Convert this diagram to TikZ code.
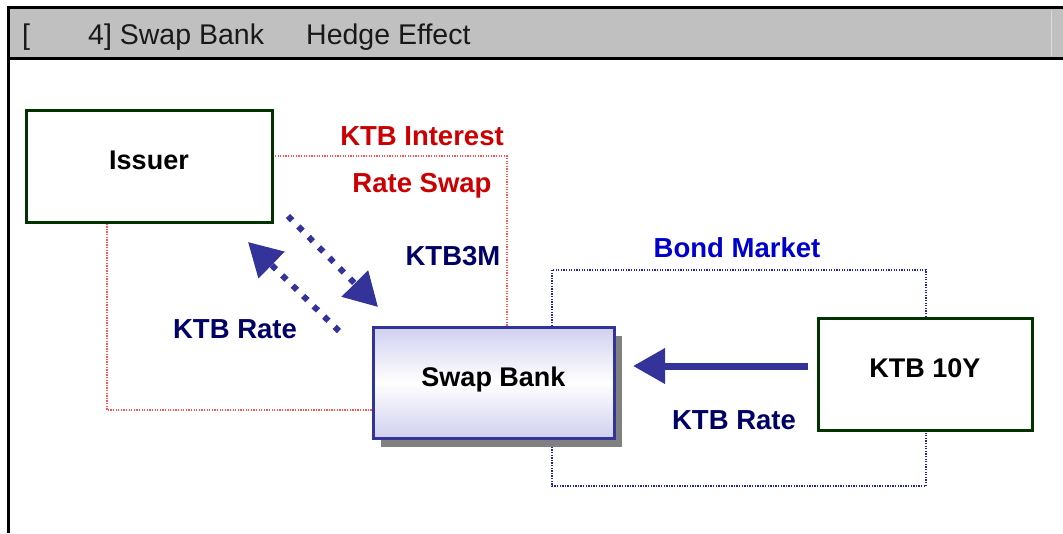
\documentclass[tikz,border=0pt]{standalone}
\usepackage{fontspec}
\setmainfont{Liberation Sans}
\usetikzlibrary{arrows.meta,shadows}
\definecolor{barg}{HTML}{C0C0C0}
\definecolor{dkgreen}{HTML}{003300}
\definecolor{bankblue}{HTML}{333399}
\definecolor{bankfill}{HTML}{D0D0F0}
\definecolor{navylbl}{HTML}{000066}
\definecolor{redlbl}{HTML}{CC0000}
\definecolor{bluelbl}{HTML}{0000CC}
\definecolor{reddot}{HTML}{FF5555}
\definecolor{bluedot}{HTML}{2222AA}
\tikzset{
  lbl/.style={anchor=base,inner sep=0pt,font=\fontsize{27.5}{32}\selectfont\bfseries},
  title/.style={anchor=base west,inner sep=0pt,text=black!90,font=\fontsize{28.5}{33}\selectfont},
  box/.style={draw,line width=3pt,inner sep=0pt,text height=19pt,text depth=12pt,
    font=\fontsize{27}{31}\selectfont\bfseries},
  greenbox/.style={box,draw=dkgreen,fill=white},
  bankbox/.style={box,draw=bankblue,top color=bankfill,bottom color=bankfill,middle color=white,
    general shadow={fill=black!50,shadow xshift=8pt,shadow yshift=-9pt}},
  dotarrow/.style={draw=bankblue,line width=6pt,dash pattern=on 6pt off 8.7pt,
    -{Triangle[length=33pt,width=36pt]}},
  solidarrow/.style={draw=bankblue,line width=7pt,-{Triangle[length=32pt,width=34pt]}},
  reddotted/.style={draw=reddot,line width=1.1pt,dash pattern=on 1.3pt off 1.3pt},
  bluedotted/.style={draw=bluedot,line width=1.1pt,dash pattern=on 1.3pt off 1.3pt}
}
\begin{document}
\begin{tikzpicture}[x=1pt,y=-1pt]
\useasboundingbox (0,0) rectangle (1063,533);
\fill[white] (0,0) rectangle (1063,533);
% title bar
\fill[barg] (8,8) rectangle (1063,58);
\draw[white!85!black,line width=1pt] (1051,10) -- (1051,56);
\draw[black,line width=3pt] (8,7) -- (1063,7);
\draw[black,line width=3pt] (8,58) -- (1063,58);
\draw[black,line width=3pt] (8,6) -- (8,533);
\node[title] (t1) at (22,44) {[};
\node[title] (t2) at (88,44) {4] Swap Bank};
\node[title] (t3) at (306,44) {Hedge Effect};
% dotted frames
\draw[reddotted] (107,156) rectangle (507,410);
\draw[bluedotted] (552,270) rectangle (926,486);
% boxes
\node[greenbox,minimum width=246pt,minimum height=112pt] (issuer) at (149,166) {Issuer};
\node[bankbox,minimum width=241pt,minimum height=111pt] (bank) at (493.5,382.5) {Swap Bank};
\node[greenbox,minimum width=214pt,minimum height=112pt] (ktb) at (925,374) {KTB 10Y};
% labels
\node[lbl,text=redlbl] (l1) at (422,145) {KTB Interest};
\node[lbl,text=redlbl] (l2) at (422,192) {Rate Swap};
\node[lbl,text=navylbl] (l3) at (453,265) {KTB3M};
\node[lbl,text=bluelbl] (l4) at (737,257) {Bond Market};
\node[lbl,text=navylbl] (l5) at (235,338) {KTB Rate};
\node[lbl,text=navylbl] (l6) at (734,429) {KTB Rate};
% arrows
\coordinate (a1s) at (288,216);
\coordinate (a1e) at (378,307);
\coordinate (a2s) at (339,331);
\coordinate (a2e) at (248,242);
\coordinate (a3s) at (808,366);
\coordinate (a3e) at (633,366);
\draw[dotarrow] (a1s) -- (a1e);
\draw[dotarrow] (a2s) -- (a2e);
\draw[solidarrow] (a3s) -- (a3e);
\end{tikzpicture}
\end{document}
